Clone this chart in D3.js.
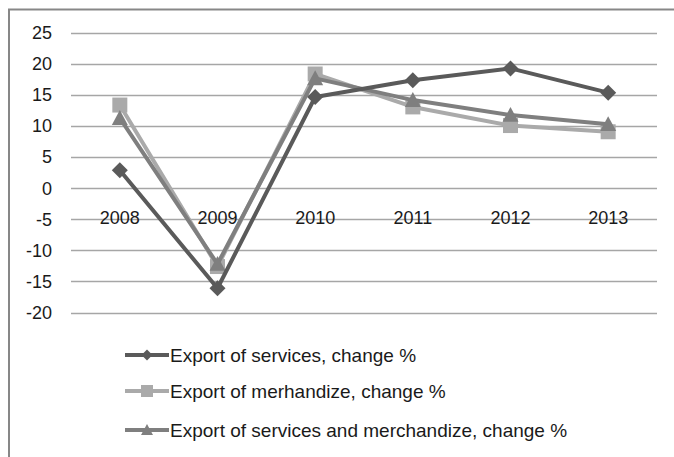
<!DOCTYPE html>
<html>
<head>
<meta charset="utf-8">
<script src="https://cdn.jsdelivr.net/npm/d3@7"></script>
<style>
  html, body { margin: 0; padding: 0; background: #fff; }
  svg { display: block; }
  text { font-family: "Liberation Sans", Arial, sans-serif; fill: #1a1a1a; }
</style>
</head>
<body>
<svg id="chart" width="674" height="457"></svg>
<script>
// Annual change of exports, %
const years = ["2008", "2009", "2010", "2011", "2012", "2013"];
const services = [2.9, -16.1, 14.7, 17.4, 19.3, 15.4];
const merchandize = [13.4, -12.6, 18.4, 13.1, 10.1, 9.1];
const servicesAndMerchandize = [11.3, -12.2, 17.7, 14.2, 11.8, 10.3];
const seriesNames = [
  "Export of services, change %",
  "Export of merhandize, change %",
  "Export of services and merchandize, change %"
];
const yTicks = [25, 20, 15, 10, 5, 0, -5, -10, -15, -20];

const series = [
  { name: seriesNames[0], values: services, color: "#5a5a5a", marker: "diamond" },
  { name: seriesNames[1], values: merchandize, color: "#aaaaaa", marker: "square" },
  { name: seriesNames[2], values: servicesAndMerchandize, color: "#7f7f7f", marker: "triangle" }
];

const svg = d3.select("#chart");

// outer frame
svg.append("rect")
  .attr("x", 9).attr("y", 9.5)
  .attr("width", 700).attr("height", 500)
  .attr("fill", "none").attr("stroke", "#878787").attr("stroke-width", 2);

const plot = { left: 71, right: 657, top: 33, bottom: 312.5 };

const x = d3.scaleBand().domain(years).range([plot.left, plot.right]);
const y = d3.scaleLinear().domain([-20, 25]).range([plot.bottom, plot.top]);

// horizontal gridlines
svg.append("g").selectAll("line").data(yTicks).join("line")
  .attr("x1", plot.left).attr("x2", plot.right)
  .attr("y1", d => Math.round(y(d)) + 0.5).attr("y2", d => Math.round(y(d)) + 0.5)
  .attr("stroke", "#a6a6a6").attr("stroke-width", 1.3);

const fontStack = '"Liberation Sans", Arial, sans-serif';

// value axis labels
const yAxis = d3.axisLeft(y).tickValues(yTicks).tickSize(0).tickPadding(0)
  .tickFormat(d => String(d));
const yg = svg.append("g").attr("transform", `translate(52,0)`).call(yAxis);
yg.select(".domain").remove();
yg.selectAll("text").attr("font-size", 18).attr("fill", "#1a1a1a")
  .style("font-family", fontStack);

// category axis labels sit below the zero line
const xAxis = d3.axisBottom(x).tickSize(0).tickPadding(0);
const xg = svg.append("g").attr("transform", `translate(0,${y(0) + 36})`).call(xAxis);
xg.select(".domain").remove();
xg.selectAll("text").attr("font-size", 18).attr("fill", "#1a1a1a").attr("dy", "0")
  .style("font-family", fontStack);

const cx = d => x(d) + x.bandwidth() / 2;
const line = d3.line().x((v, i) => cx(years[i])).y(v => y(v));

function markerPath(type, size) {
  const s = size / 2;
  if (type === "diamond") return `M0,${-s}L${s},0L0,${s}L${-s},0Z`;
  if (type === "square") return `M${-s},${-s}H${s}V${s}H${-s}Z`;
  return `M0,${-s}L${s},${s * 0.85}L${-s},${s * 0.85}Z`;
}
const markerSize = { diamond: 16, square: 15, triangle: 16 };

// draw lines (lighter ones first so the darker series sits on top)
const order = [1, 2, 0];
order.forEach(k => {
  const s = series[k];
  svg.append("path").datum(s.values)
    .attr("d", line).attr("fill", "none")
    .attr("stroke", s.color).attr("stroke-width", 4).attr("stroke-linejoin", "round");
  svg.append("g").selectAll("path").data(s.values).join("path")
    .attr("transform", (v, i) => `translate(${cx(years[i])},${y(v)})`)
    .attr("d", markerPath(s.marker, markerSize[s.marker]))
    .attr("fill", s.color);
});

// legend
const legendRows = [355, 391, 430];
series.forEach((s, k) => {
  const g = svg.append("g").attr("transform", `translate(125,${legendRows[k]})`);
  g.append("line").attr("x1", 0).attr("x2", 44).attr("y1", 0).attr("y2", 0)
    .attr("stroke", s.color).attr("stroke-width", 4);
  g.append("path").attr("transform", "translate(22,0)")
    .attr("d", markerPath(s.marker, s.marker === "diamond" ? 11 : 12))
    .attr("fill", s.color);
  g.append("text").attr("x", 45).attr("y", 0).attr("dy", "0.35em")
    .attr("font-size", 19).text(s.name);
});
</script>
</body>
</html>
